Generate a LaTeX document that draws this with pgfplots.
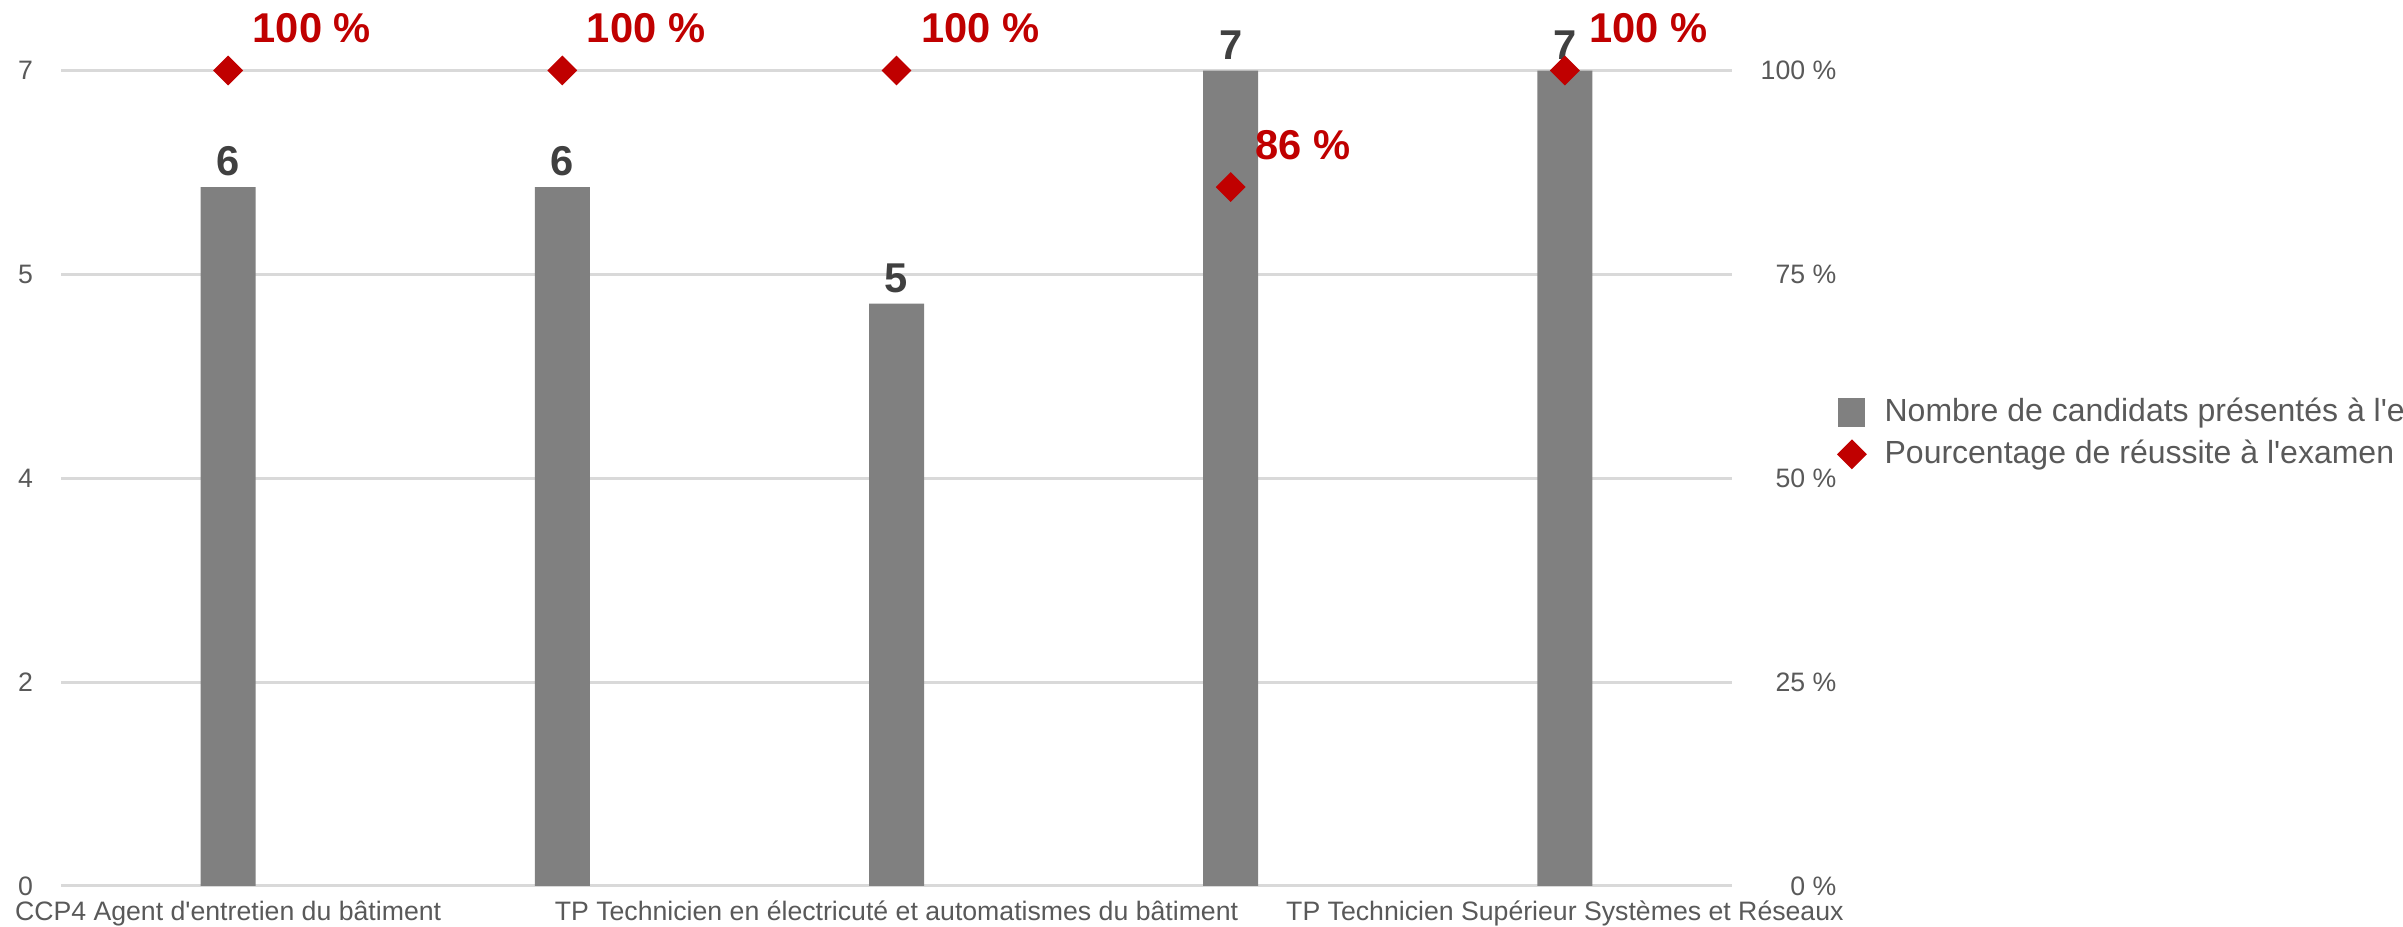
\documentclass[border=0pt]{standalone}
\usepackage{pgfplots}
\pgfplotsset{compat=1.18}
\usepackage{fontspec}
\setmainfont{Liberation Sans}
\definecolor{barg}{HTML}{808080}
\definecolor{redd}{HTML}{C00000}
\definecolor{lab}{HTML}{404040}
\definecolor{tickc}{HTML}{595959}
\definecolor{gridc}{HTML}{D9D9D9}
\begin{document}
\begin{tikzpicture}
\pgfplotsset{
 base/.style={
  scale only axis, width=501.3pt, height=244.65pt,
  at={(18.3pt,12.3pt)}, anchor=south west,
  xmin=-0.5, xmax=4.5, clip=false,
  axis line style={draw=none},
  major tick length=0pt,
  tick label style={font=\fontsize{8}{9.6}\selectfont, text=tickc},
 }
}
\begin{axis}[base,
  ymin=0, ymax=7,
  ytick={0,1.75,3.5,5.25,7},
  yticklabels={0,2,4,5,7},
  ymajorgrids, grid style={gridc, line width=0.9pt},
  xtick={0,2,4},
  xticklabels={CCP4 Agent d\textquotesingle entretien du bâtiment, TP Technicien en électricuté et automatismes du bâtiment, TP Technicien Supérieur Systèmes et Réseaux},
  yticklabel style={anchor=east, inner sep=0pt, xshift=-8.2pt},
  xticklabel style={anchor=north, inner sep=0pt, yshift=-4.2pt},
  ybar, bar width=16.5pt,
  nodes near coords={\pgfmathprintnumber[assume math mode=true]{\pgfplotspointmeta}},
  nodes near coords style={font=\bfseries\fontsize{12.5}{12.5}\selectfont, text=lab, inner sep=0pt, anchor=south, yshift=3pt},
]
\addplot[fill=barg, draw=none] coordinates {(0,6) (1,6) (2,5) (3,7) (4,7)};
\end{axis}
\begin{axis}[base,
  ymin=0, ymax=100,
  ytick={0,25,50,75,100},
  yticklabels={0 \%,25 \%,50 \%,75 \%,100 \%},
  yticklabel pos=right,
  yticklabel style={anchor=east, inner sep=0pt, xshift=31.5pt},
  xtick=\empty,
  legend style={at={(1.063,0.555)}, anchor=west, draw=none, fill=none, inner sep=0pt,
    column sep=3.6pt,
    font=\fontsize{9.6}{11.7}\selectfont, text=tickc, cells={anchor=west}},
]
\addlegendimage{legend image code/.code={\fill[barg] (4.6pt,-4.2pt) rectangle (12.4pt,4.2pt);}}
\addlegendentry{Nombre de candidats présentés à l\textquotesingle examen}
\addplot[only marks, color=redd, mark=square*, mark size=2.97pt, mark options={rotate=45, fill=redd, draw=none},
  nodes near coords={\pgfmathprintnumber[fixed,precision=0,assume math mode=true]{\pgfplotspointmeta}~\%},
  nodes near coords style={font=\bfseries\fontsize{12.5}{12.5}\selectfont, text=redd, inner sep=0pt, anchor=west, xshift=7.2pt, yshift=12.6pt}]
  coordinates {(0,100) (1,100) (2,100) (3,85.71) (4,100)};
\addlegendentry{Pourcentage de réussite à l\textquotesingle examen}
\end{axis}
\pgfresetboundingbox
\path[use as bounding box] (0,0) rectangle (720.9pt,278.1pt);
\end{tikzpicture}
\end{document}
